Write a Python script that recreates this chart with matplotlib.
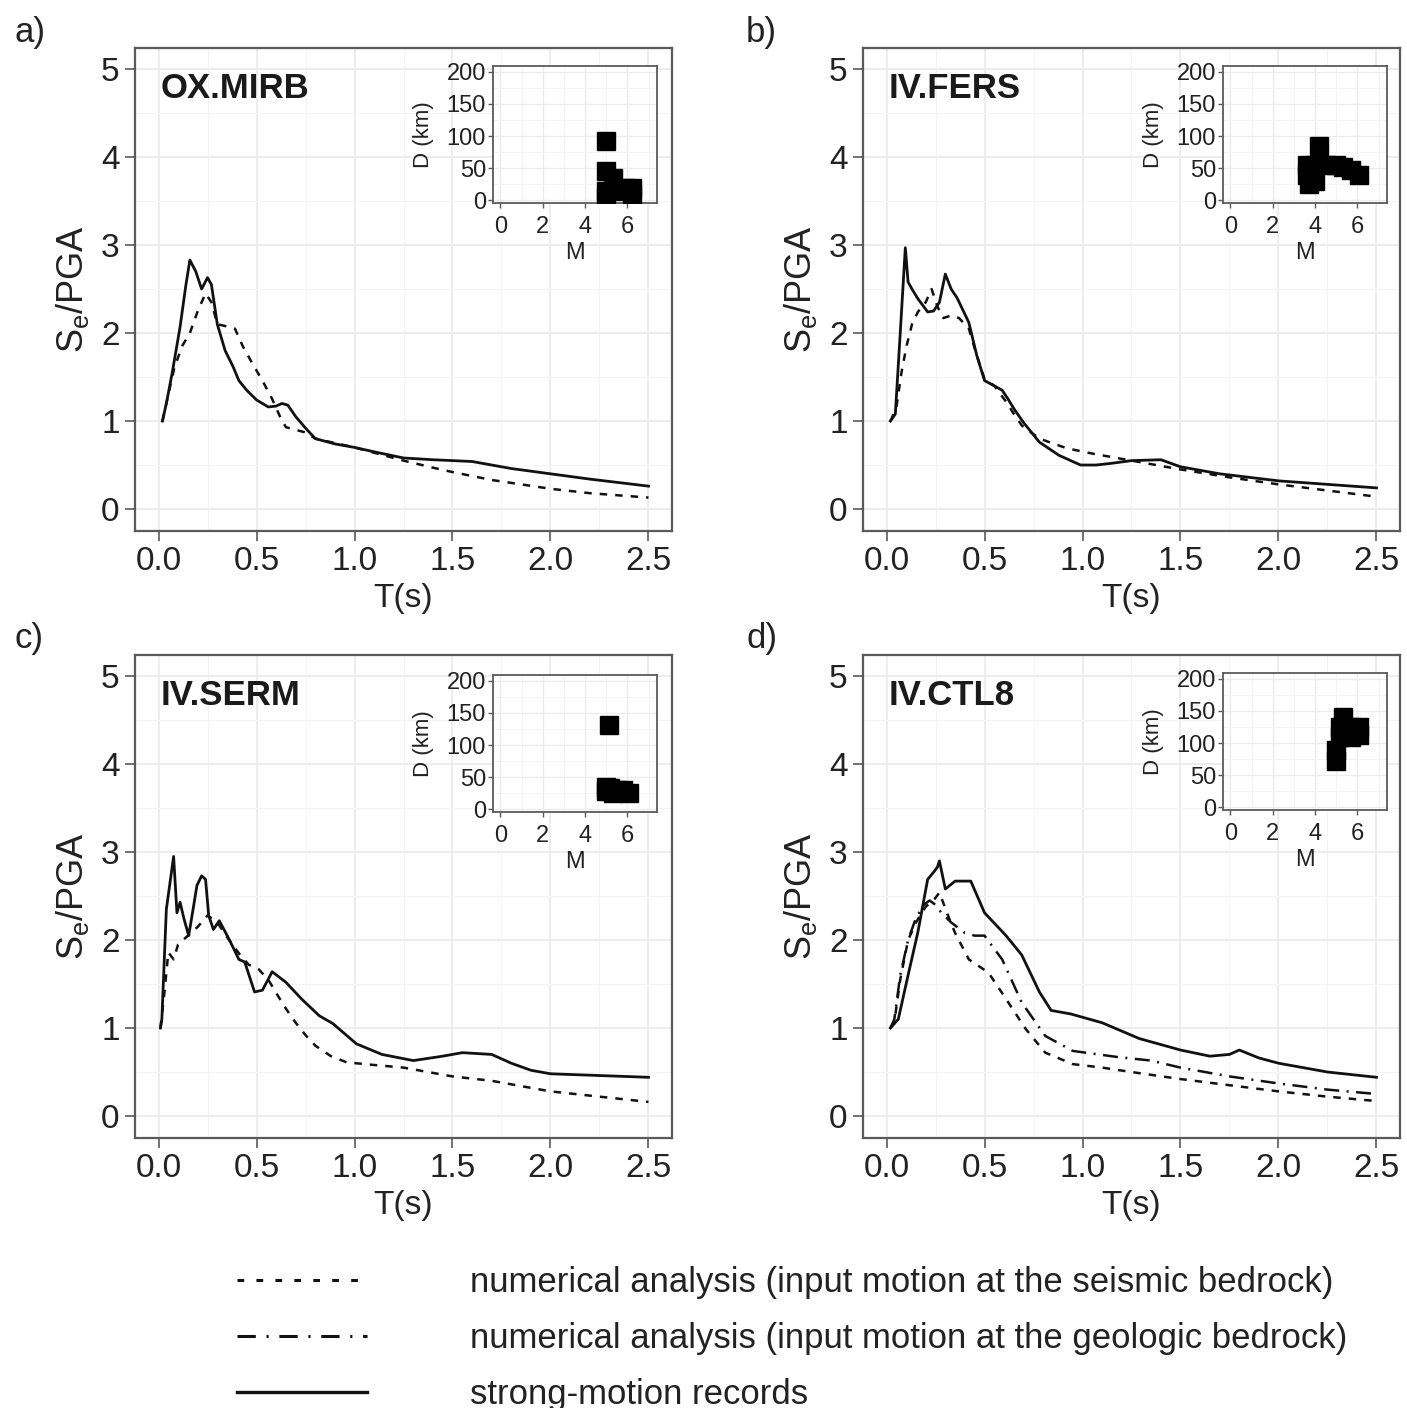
import numpy as np
import matplotlib
matplotlib.use('Agg')
import matplotlib.pyplot as plt
from matplotlib.lines import Line2D
from matplotlib.ticker import MultipleLocator

plt.rcParams['font.family'] = ['Liberation Sans', 'DejaVu Sans']
plt.rcParams['mathtext.default'] = 'regular'

# ---- data ----
stations = ['OX.MIRB', 'IV.FERS', 'IV.SERM', 'IV.CTL8']
letters = ['a)', 'b)', 'c)', 'd)']

# a) OX.MIRB
T_a_rec = [0.02, 0.04, 0.07, 0.11, 0.14, 0.16, 0.19, 0.22, 0.25, 0.27, 0.30, 0.34, 0.38, 0.41, 0.45,
           0.50, 0.56, 0.60, 0.63, 0.66, 0.70, 0.75, 0.80, 0.90, 1.00, 1.10, 1.25, 1.40, 1.50, 1.60,
           1.70, 1.80, 2.00, 2.20, 2.50]
Se_a_rec = [1.00, 1.20, 1.55, 2.07, 2.55, 2.83, 2.70, 2.50, 2.63, 2.55, 2.10, 1.80, 1.62, 1.46, 1.35,
            1.24, 1.16, 1.17, 1.20, 1.18, 1.05, 0.92, 0.80, 0.74, 0.70, 0.65, 0.58, 0.56, 0.55, 0.54,
            0.50, 0.46, 0.40, 0.34, 0.26]
T_a_num = [0.02, 0.05, 0.08, 0.12, 0.16, 0.20, 0.24, 0.27, 0.30, 0.34, 0.39, 0.43, 0.48, 0.53, 0.58,
           0.62, 0.65, 0.70, 0.75, 0.80, 0.90, 1.00, 1.10, 1.25, 1.40, 1.50, 1.70, 2.00, 2.20, 2.50]
Se_a_num = [1.00, 1.30, 1.60, 1.85, 2.00, 2.25, 2.45, 2.35, 2.10, 2.08, 2.05, 1.85, 1.65, 1.46, 1.25,
            1.05, 0.93, 0.90, 0.87, 0.80, 0.75, 0.70, 0.64, 0.55, 0.47, 0.42, 0.33, 0.23, 0.18, 0.13]

# b) IV.FERS
T_b_rec = [0.02, 0.045, 0.07, 0.096, 0.11, 0.13, 0.16, 0.19, 0.21, 0.24, 0.27, 0.30, 0.33, 0.36, 0.42,
           0.46, 0.50, 0.55, 0.59, 0.62, 0.65, 0.70, 0.78, 0.88, 0.99, 1.07, 1.15, 1.25, 1.40, 1.50,
           1.70, 2.00, 2.25, 2.50]
Se_b_rec = [1.00, 1.08, 2.00, 2.97, 2.58, 2.50, 2.39, 2.30, 2.24, 2.25, 2.35, 2.67, 2.50, 2.40, 2.12,
            1.75, 1.46, 1.40, 1.35, 1.25, 1.14, 0.98, 0.76, 0.61, 0.50, 0.50, 0.52, 0.55, 0.56, 0.48,
            0.40, 0.32, 0.28, 0.24]
T_b_num = [0.02, 0.05, 0.077, 0.103, 0.13, 0.16, 0.20, 0.23, 0.26, 0.29, 0.33, 0.37, 0.42, 0.46, 0.50,
           0.55, 0.61, 0.65, 0.69, 0.78, 0.92, 1.05, 1.25, 1.50, 1.75, 2.00, 2.25, 2.50]
Se_b_num = [1.00, 1.15, 1.56, 1.86, 2.10, 2.24, 2.35, 2.50, 2.30, 2.17, 2.20, 2.17, 2.05, 1.75, 1.48,
            1.40, 1.22, 1.08, 0.95, 0.80, 0.69, 0.63, 0.55, 0.45, 0.36, 0.28, 0.21, 0.14]

# c) IV.SERM
T_c_rec = [0.01, 0.017, 0.04, 0.077, 0.094, 0.11, 0.13, 0.154, 0.18, 0.196, 0.22, 0.24, 0.256, 0.28,
           0.31, 0.36, 0.41, 0.44, 0.49, 0.53, 0.58, 0.65, 0.73, 0.82, 0.89, 1.01, 1.14, 1.30, 1.45,
           1.55, 1.70, 1.80, 1.90, 2.00, 2.25, 2.50]
Se_c_rec = [1.00, 1.10, 2.35, 2.95, 2.31, 2.43, 2.24, 2.05, 2.40, 2.62, 2.73, 2.69, 2.28, 2.12,
            2.22, 2.01, 1.78, 1.75, 1.41, 1.43, 1.64, 1.52, 1.33, 1.14, 1.05, 0.82, 0.70, 0.63, 0.68,
            0.72, 0.70, 0.60, 0.52, 0.48, 0.46, 0.44]
T_c_num = [0.01, 0.03, 0.05, 0.077, 0.10, 0.15, 0.20, 0.25, 0.30, 0.36, 0.41, 0.46, 0.51, 0.56, 0.60,
           0.65, 0.70, 0.75, 0.80, 0.88, 0.96, 1.10, 1.25, 1.50, 1.70, 2.00, 2.25, 2.50]
Se_c_num = [1.00, 1.40, 1.86, 1.78, 1.95, 2.05, 2.15, 2.28, 2.20, 2.00, 1.85, 1.72, 1.67, 1.55, 1.40,
            1.22, 1.06, 0.92, 0.80, 0.68, 0.61, 0.58, 0.55, 0.45, 0.40, 0.28, 0.22, 0.16]

# d) IV.CTL8
T_d_rec = [0.02, 0.06, 0.11, 0.16, 0.21, 0.24, 0.26, 0.27, 0.30, 0.35, 0.43, 0.50, 0.61, 0.69, 0.78,
           0.84, 0.94, 1.10, 1.29, 1.50, 1.65, 1.75, 1.80, 1.90, 2.00, 2.25, 2.50]
Se_d_rec = [1.00, 1.10, 1.60, 2.09, 2.69, 2.77, 2.83, 2.90, 2.58, 2.67, 2.67, 2.31, 2.05, 1.83, 1.41,
            1.20, 1.16, 1.06, 0.88, 0.75, 0.68, 0.70, 0.75, 0.66, 0.60, 0.50, 0.44]
T_d_num = [0.02, 0.04, 0.07, 0.11, 0.15, 0.20, 0.24, 0.27, 0.31, 0.35, 0.42, 0.52, 0.61, 0.71, 0.81,
           0.95, 1.10, 1.25, 1.50, 1.75, 2.00, 2.25, 2.50]
Se_d_num = [1.00, 1.07, 1.55, 2.00, 2.20, 2.38, 2.45, 2.54, 2.30, 2.08, 1.78, 1.63, 1.33, 0.99, 0.72,
            0.59, 0.55, 0.50, 0.42, 0.35, 0.28, 0.22, 0.17]
T_d_geo = [0.02, 0.04, 0.07, 0.11, 0.15, 0.19, 0.22, 0.25, 0.28, 0.33, 0.40, 0.45, 0.50, 0.59, 0.69,
           0.81, 0.95, 1.18, 1.35, 1.50, 1.75, 2.00, 2.25, 2.50]
Se_d_geo = [1.00, 1.10, 1.60, 2.00, 2.25, 2.40, 2.45, 2.40, 2.31, 2.20, 2.08, 2.05, 2.05, 1.78, 1.29,
            0.91, 0.74, 0.67, 0.63, 0.55, 0.45, 0.37, 0.30, 0.25]

# insets: magnitude / distance of the records
M_a = [5.0, 5.0, 5.3, 5.0, 5.5, 5.9, 6.2, 6.2, 5.0]
D_a = [92, 45, 35, 15, 15, 20, 20, 10, 5]
M_b = [4.2, 3.6, 3.6, 3.7, 4.0, 4.0, 4.5, 5.0, 5.3, 5.7, 6.1, 3.8]
D_b = [85, 55, 40, 25, 30, 55, 55, 55, 52, 48, 40, 45]
M_c = [5.15, 5.0, 5.0, 5.3, 5.5, 5.8, 6.1, 5.2]
D_c = [131, 35, 28, 25, 30, 30, 25, 33]
M_d = [5.0, 5.0, 5.2, 5.3, 5.2, 5.7, 6.1, 6.1, 5.7]
D_d = [72, 90, 110, 140, 125, 125, 125, 112, 110]

legend_labels = ['numerical analysis (input motion at the seismic bedrock)',
                 'numerical analysis (input motion at the geologic bedrock)',
                 'strong-motion records']

panels = [
    [(T_a_num, Se_a_num, 'num'), (T_a_rec, Se_a_rec, 'rec')],
    [(T_b_num, Se_b_num, 'num'), (T_b_rec, Se_b_rec, 'rec')],
    [(T_c_num, Se_c_num, 'num'), (T_c_rec, Se_c_rec, 'rec')],
    [(T_d_num, Se_d_num, 'num'), (T_d_geo, Se_d_geo, 'geo'), (T_d_rec, Se_d_rec, 'rec')],
]
insets = [(M_a, D_a), (M_b, D_b), (M_c, D_c), (M_d, D_d)]

styles = {
    'num': dict(color='#111111', lw=1.8, linestyle=(0, (3.0, 3.2))),
    'geo': dict(color='#111111', lw=1.8, linestyle=(0, (6.0, 3.0, 0.8, 3.0))),
    'rec': dict(color='#111111', lw=2.0, linestyle='-'),
}
leg_styles = {
    'num': dict(color='#111111', lw=2.2, linestyle=(0, (2.2, 4.0))),
    'geo': dict(color='#111111', lw=2.2, linestyle=(0, (6.0, 3.5, 0.7, 3.5))),
    'rec': dict(color='#111111', lw=2.4, linestyle='-'),
}

W, H = 1407, 1408
fig = plt.figure(figsize=(W / 100, H / 100), dpi=100)

main_pos = [(135, 48), (863, 48), (135, 655), (863, 655)]
inset_pos = [(493, 66), (1223, 66), (493, 675), (1223, 673)]
letter_pos = [(14, 16), (746, 16), (14, 622), (746, 622)]
aw, ah = 537, 483
iw, ih = 164, 137

grid_c = '#ececec'
spine_c = '#5a5a5a'

for i in range(4):
    x0, y0 = main_pos[i]
    ax = fig.add_axes([x0 / W, 1 - (y0 + ah) / H, aw / W, ah / H])
    for t, s, kind in panels[i]:
        ax.plot(t, s, **styles[kind], zorder=3)
    ax.set_xlim(-0.12, 2.62)
    ax.set_ylim(-0.25, 5.24)
    ax.xaxis.set_major_locator(MultipleLocator(0.5))
    ax.xaxis.set_minor_locator(MultipleLocator(0.25))
    ax.yaxis.set_major_locator(MultipleLocator(1))
    ax.yaxis.set_minor_locator(MultipleLocator(0.5))
    ax.xaxis.set_major_formatter(matplotlib.ticker.FormatStrFormatter('%.1f'))
    ax.grid(which='major', color=grid_c, lw=1.3, zorder=0)
    ax.grid(which='minor', color='#f4f4f4', lw=0.8, zorder=0)
    ax.set_axisbelow(True)
    ax.tick_params(which='major', direction='out', length=7, width=1.2, color=spine_c,
                   labelsize=24, labelcolor='#222222', pad=4)
    ax.tick_params(which='minor', length=0)
    for sp in ax.spines.values():
        sp.set_color(spine_c)
        sp.set_linewidth(1.6)
    ax.set_xlabel('T(s)', fontsize=24, color='#222222')
    ax.set_ylabel(r'$S_e/PGA$', fontsize=26, color='#222222')
    ax.yaxis.set_label_coords(-0.082, 0.5)
    ax.xaxis.set_label_coords(0.5, -0.108)
    ax.text(0.047, 0.917, stations[i], transform=ax.transAxes, fontsize=25,
            fontweight='bold', color='#1a1a1a', va='center', ha='left')
    lx, ly = letter_pos[i]
    fig.text(lx / W, 1 - ly / H, letters[i], fontsize=25, color='#222222', va='top', ha='left')

    # inset
    ix, iy = inset_pos[i]
    ins = fig.add_axes([ix / W, 1 - (iy + ih) / H, iw / W, ih / H])
    m, d = insets[i]
    ins.plot(m, d, linestyle='none', marker='s', markersize=12.5, color='black', zorder=3)
    ins.set_xlim(-0.35, 7.4)
    ins.set_ylim(-4, 209)
    ins.set_xticks([0, 2, 4, 6])
    ins.set_yticks([0, 50, 100, 150, 200])
    ins.xaxis.set_minor_locator(MultipleLocator(1))
    ins.yaxis.set_minor_locator(MultipleLocator(25))
    ins.grid(which='major', color=grid_c, lw=1.0, zorder=0)
    ins.grid(which='minor', color='#f4f4f4', lw=0.7, zorder=0)
    ins.set_axisbelow(True)
    ins.tick_params(which='major', direction='out', length=3.5, width=1.0, color=spine_c,
                    labelsize=17, labelcolor='#222222', pad=1.5)
    ins.tick_params(axis='x', pad=6)
    ins.tick_params(which='minor', length=0)
    for sp in ins.spines.values():
        sp.set_color(spine_c)
        sp.set_linewidth(1.3)
    ins.set_xlabel('M', fontsize=17, color='#222222', labelpad=3)
    ins.set_ylabel('D (km)', fontsize=16, color='#222222', labelpad=9)

handles = [Line2D([], [], **leg_styles['num']),
           Line2D([], [], **leg_styles['geo']),
           Line2D([], [], **leg_styles['rec'])]
fig.legend(handles, legend_labels, loc='upper left', bbox_to_anchor=(237 / W, 1 - 1266 / H),
           frameon=False, fontsize=25, handlelength=3.75, handletextpad=2.97,
           labelspacing=0.66, borderpad=0, borderaxespad=0, labelcolor='#222222')

fig.savefig('out.png', dpi=100, facecolor='white')
